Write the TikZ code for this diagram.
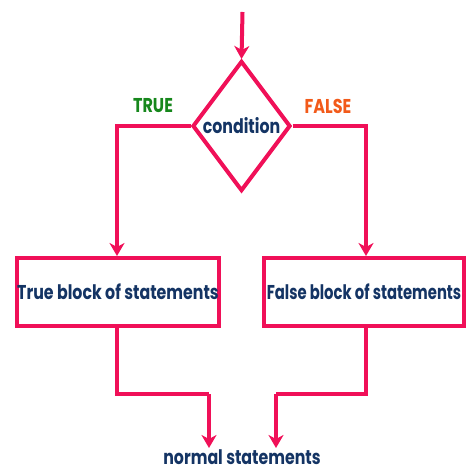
\documentclass[tikz,border=0pt]{standalone}
\usepackage{fontspec}
\setmainfont{Poppins}
\usetikzlibrary{arrows.meta,shapes.geometric}
\definecolor{flow}{RGB}{240,16,88}
\definecolor{ink}{RGB}{20,52,100}
\definecolor{yes}{RGB}{22,135,28}
\definecolor{no}{RGB}{242,90,26}
\newcommand{\lbl}[2][0.79]{\scalebox{#1}[1]{\bfseries #2}}
\tikzset{
  big/.style={font=\fontsize{20}{24}\selectfont},
  link/.style={draw=flow,line width=4pt,-{Stealth[length=13pt,width=15pt,inset=4pt]}},
  wire/.style={draw=flow,line width=4pt},
  blockbox/.style={draw=flow,line width=4pt,fill=white,minimum width=200pt,minimum height=68pt,inner sep=0pt,big,text=ink},
  test/.style={draw=flow,line width=4pt,diamond,minimum width=98pt,minimum height=130pt,inner sep=0pt,aspect=0.75}
}
\begin{document}
\begin{tikzpicture}[x=1pt,y=-1pt]
\useasboundingbox (0,0) rectangle (465,470);
\coordinate (start) at (242.5,12);
\node[test] (cond) at (241.5,126) {};
\node[text=ink,big] (condtext) at (241.5,126) {\lbl{condition}};
\node[blockbox] (tb) at (118,292) {\lbl{True block of statements}};
\node[blockbox] (fb) at (364,292) {\lbl[0.74]{False block of statements}};
\node[text=yes,big] (tl) at (153,106) {\lbl[0.8]{TRUE}};
\node[text=no,big] (fl) at (328,106) {\lbl[0.8]{FALSE}};
\node[text=ink,big] (normal) at (242,457) {\lbl{normal statements}};
\coordinate (tj) at (117,394);
\coordinate (fj) at (366,394);
\coordinate (ta) at (209,448);
\coordinate (fa) at (276,448);
\draw[link] (start) -- (cond.north);
\draw[link] (cond.west) -| (tb.north -| 117,0);
\draw[link] (cond.east) -| (fb.north -| 366,0);
\draw[wire] (tb.south -| 117,0) -- (tj) -- (tj -| ta);
\draw[link] (tj -| ta) -- (ta);
\draw[wire] (fb.south -| 366,0) -- (fj) -- (fj -| fa);
\draw[link] (fj -| fa) -- (fa);
\end{tikzpicture}
\end{document}
